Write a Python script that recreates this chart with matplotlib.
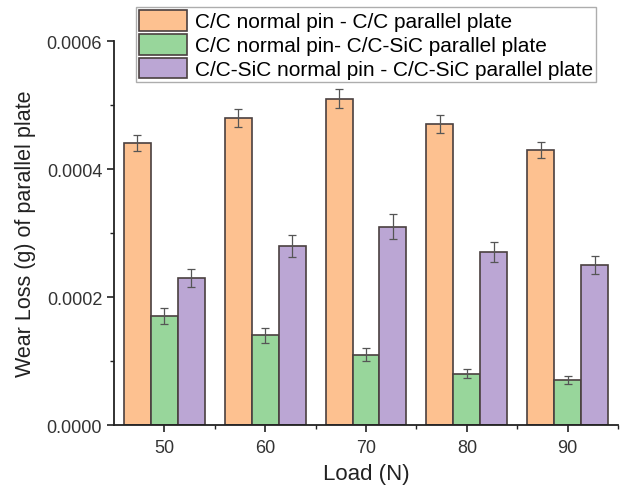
import matplotlib
matplotlib.use("Agg")
import matplotlib.pyplot as plt
import numpy as np
from matplotlib.ticker import MultipleLocator, FormatStrFormatter

plt.rcParams['font.family'] = ['Liberation Sans', 'DejaVu Sans']

loads = ["50", "60", "70", "80", "90"]
series_names = ["C/C normal pin - C/C parallel plate",
                "C/C normal pin- C/C-SiC parallel plate",
                "C/C-SiC normal pin - C/C-SiC parallel plate"]
cc_cc = [0.00044, 0.00048, 0.00051, 0.00047, 0.00043]
cc_cc_err = [0.0000125, 0.0000145, 0.000015, 0.000014, 0.000013]
cc_sic = [0.00017, 0.00014, 0.00011, 0.00008, 0.00007]
cc_sic_err = [0.0000125, 0.000012, 0.00001, 0.000007, 0.000006]
sic_sic = [0.00023, 0.00028, 0.00031, 0.00027, 0.00025]
sic_sic_err = [0.000014, 0.000017, 0.000019, 0.000016, 0.0000145]

colors = ["#FDC190", "#98D69B", "#BBA6D4"]
edge = "#4a4040"

fig = plt.figure(figsize=(6.22, 4.89), dpi=100)
ax = fig.add_axes([0.1833, 0.1288, 0.8103, 0.7852])

x = np.arange(len(loads))
w = 0.267
vals = [cc_cc, cc_sic, sic_sic]
errs = [cc_cc_err, cc_sic_err, sic_sic_err]
handles = []
for i in range(3):
    b = ax.bar(x + (i - 1) * w, vals[i], w, color=colors[i], edgecolor=edge,
               linewidth=1.2, label=series_names[i])
    ax.errorbar(x + (i - 1) * w, vals[i], yerr=errs[i], fmt='none',
                ecolor="#555555", elinewidth=0.9, capsize=3, capthick=0.9)
    handles.append(b)

ax.set_xlim(-0.5, 4.5)
ax.set_ylim(0, 0.0006)
ax.set_xticks(x)
ax.set_xticklabels(loads)
ax.set_xticks(x + 0.5, minor=True)
ax.yaxis.set_major_locator(MultipleLocator(0.0002))
ax.yaxis.set_minor_locator(MultipleLocator(0.0001))
ax.yaxis.set_major_formatter(FormatStrFormatter('%.4f'))
ax.spines['top'].set_visible(False)
ax.spines['right'].set_visible(False)
for s in ['left', 'bottom']:
    ax.spines[s].set_linewidth(1.3)
    ax.spines[s].set_color('#222222')
ax.tick_params(axis='both', which='major', direction='out', length=5, width=1.2,
               labelsize=13, colors='#222222', labelcolor='#333333')
ax.tick_params(axis='x', which='major', pad=5)
ax.tick_params(axis='both', which='minor', direction='out', length=3, width=1.0,
               colors='#222222')
ax.set_xlabel("Load (N)", fontsize=16, color='#222222', labelpad=5)
ax.set_ylabel("Wear Loss (g) of parallel plate", fontsize=15.5, color='#222222', labelpad=8)

leg = fig.legend(handles=handles, loc='upper left', bbox_to_anchor=(0.219, 0.984),
                 fontsize=15, frameon=True, fancybox=False, edgecolor='#999999',
                 handlelength=2.3, handleheight=1.15, handletextpad=0.35,
                 borderpad=0.15, labelspacing=0.12, borderaxespad=0)
leg.get_frame().set_linewidth(1.0)

fig.savefig("out.png", dpi=100)
